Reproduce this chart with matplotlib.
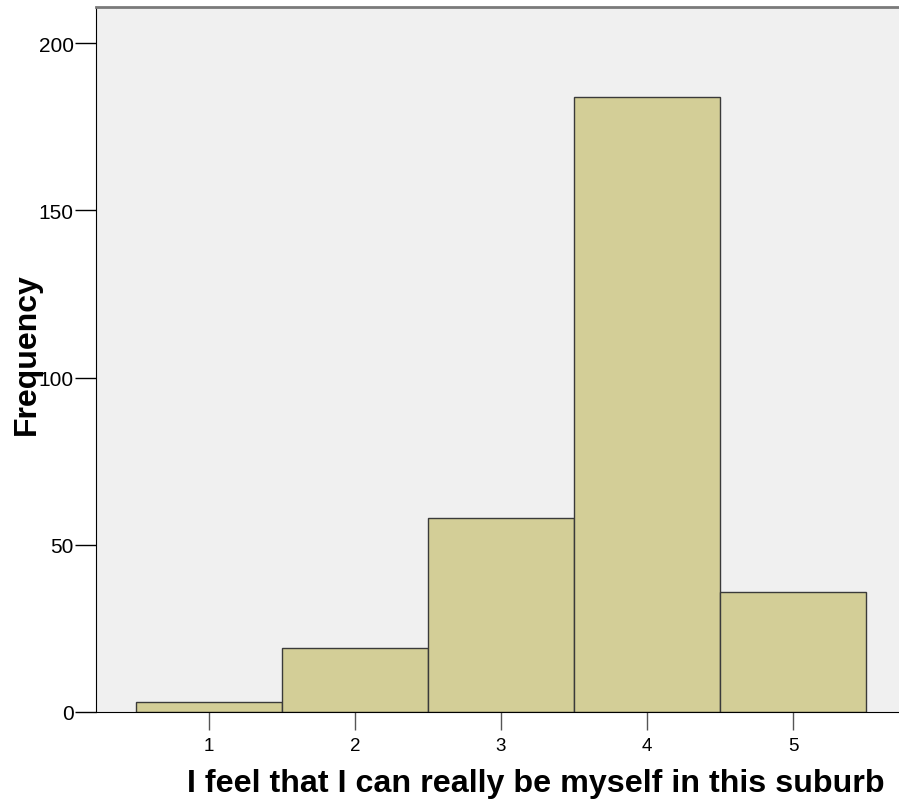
import matplotlib
matplotlib.use("Agg")
import matplotlib.pyplot as plt

categories = [1, 2, 3, 4, 5]
frequencies = [3, 19, 58, 184, 36]
y_ticks = [0, 50, 100, 150, 200]

plt.rcParams['font.family'] = ['Liberation Sans', 'DejaVu Sans']

fig = plt.figure(figsize=(8.99, 8.03), dpi=100)
ax = fig.add_axes([96/899, 90/803, 803/899, 705/803])
ax.set_facecolor('#F0F0F0')
ax.bar(categories, frequencies, width=1.0, color='#D3CE97', edgecolor='#3a3a3a', linewidth=1.0, zorder=2)
ax.set_xlim(0.226, 5.726)
ax.set_ylim(0, 210.8)
ax.set_xticks(categories)
ax.set_yticks(y_ticks)
ax.tick_params(axis='x', length=13, width=1, color='#555555', labelsize=13.5, pad=5)
ax.tick_params(axis='y', length=15, width=1, color='#000000', labelsize=15, pad=1)
ax.spines['right'].set_visible(False)
ax.spines['top'].set_color('#7a7a7a')
ax.spines['top'].set_linewidth(2)
ax.spines['left'].set_color('black')
ax.spines['bottom'].set_color('black')
ax.set_xlabel('I feel that I can really be myself in this suburb', fontsize=23.2, fontweight='bold', va='baseline')
ax.set_ylabel('Frequency', fontsize=23, fontweight='bold')
ax.xaxis.set_label_coords((536-96)/803, (713-792)/705)
ax.yaxis.set_label_coords((42-96)/803, (713-354)/705)
fig.savefig('out.png', dpi=100)
